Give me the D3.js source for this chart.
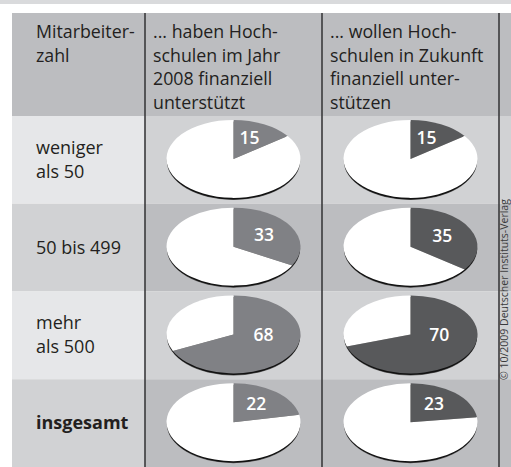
<!DOCTYPE html>
<html><head><meta charset="utf-8">
<script src="https://cdn.jsdelivr.net/npm/d3@7"></script>
<style>body{margin:0;background:#fff}svg{display:block}</style>
</head><body><svg id="c" width="511" height="467"></svg>
<script>
const headerLines = [
  ["Mitarbeiter-", "zahl"],
  ["... haben Hoch-", "schulen im Jahr", "2008 finanziell", "unterstützt"],
  ["... wollen Hoch-", "schulen in Zukunft", "finanziell unter-", "stützen"]
];
const categories = [["weniger", "als 50"], ["50 bis 499"], ["mehr", "als 500"], ["insgesamt"]];
const boldCategory = [false, false, false, true];
const supported2008 = [15, 33, 68, 22];
const supportedFuture = [15, 35, 70, 23];
const seriesColors = ["#808185", "#58595b"];
const copyright = "© 10/2009 Deutscher Instituts-Verlag";

const svg = d3.select("#c");
const W = 511, H = 467;
const font = "'Open Sans', sans-serif";

// layout
const tableLeft = 12, colX = [12, 145, 322, 499, 511];
const headerTop = 13, headerBottom = 116;
const rowY = d3.scaleBand().domain(d3.range(categories.length)).range([headerBottom, H]).padding(0);

// top strip
svg.append("rect").attr("x", 0).attr("y", 0).attr("width", W).attr("height", 4).attr("fill", "#d9dadc");
// header
svg.append("rect").attr("x", tableLeft).attr("y", headerTop).attr("width", W - tableLeft).attr("height", headerBottom - headerTop).attr("fill", "#bcbdc0");

// row backgrounds
categories.forEach((c, i) => {
  const light = i % 2 === 0;
  svg.append("rect").attr("x", colX[0]).attr("y", rowY(i)).attr("width", colX[1] - colX[0]).attr("height", rowY.bandwidth())
    .attr("fill", light ? "#e6e7e9" : "#d1d2d4");
  svg.append("rect").attr("x", colX[1]).attr("y", rowY(i)).attr("width", W - colX[1]).attr("height", rowY.bandwidth())
    .attr("fill", light ? "#d1d2d4" : "#bcbdc0");
});

// header text
const headerTextX = [36, 153, 330];
headerLines.forEach((lines, j) => {
  const t = svg.append("text").attr("font-family", font).attr("font-size", 17.8).attr("fill", "#231f20");
  lines.forEach((l, k) => t.append("tspan").attr("x", headerTextX[j]).attr("y", 38 + k * 23.5).text(l));
});

// category labels
categories.forEach((lines, i) => {
  const cy = rowY(i) + rowY.bandwidth() / 2;
  const t = svg.append("text").attr("font-family", font).attr("font-size", 18).attr("fill", "#231f20")
    .attr("font-weight", boldCategory[i] ? 700 : 400);
  const start = lines.length === 1 ? cy + 6 : cy - 6;
  lines.forEach((l, k) => t.append("tspan").attr("x", 36).attr("y", start + k * 24).text(l));
});

// vertical lines
[colX[1], colX[2], colX[3]].forEach(x => {
  svg.append("line").attr("x1", x).attr("x2", x).attr("y1", headerTop).attr("y2", H)
    .attr("stroke", "#3a3a3c").attr("stroke-width", 1.6);
});

// pies
const rx = 67, ry = 39;
const pie = d3.pie().sort(null).value(d => d);
const arc = d3.arc().innerRadius(0).outerRadius(rx);
[supported2008, supportedFuture].forEach((series, s) => {
  const cx = (colX[s + 1] + colX[s + 2]) / 2;
  series.forEach((v, i) => {
    const cy = rowY(i) + rowY.bandwidth() / 2 - 1;
    const g = svg.append("g");
    g.append("ellipse").attr("cx", cx).attr("cy", cy + 2).attr("rx", rx - 0.3).attr("ry", ry).attr("fill", "#555");
    g.append("ellipse").attr("cx", cx).attr("cy", cy + 1.6).attr("rx", rx - 0.6).attr("ry", ry).attr("fill", "#111");
    const pg = g.append("g").attr("transform", `translate(${cx},${cy}) scale(1,${ry / rx})`);
    const arcs = pie([v, 100 - v]);
    pg.selectAll("path").data(arcs).join("path").attr("d", arc)
      .attr("fill", (d, k) => k === 0 ? seriesColors[s] : "#ffffff");
    const a = arcs[0];
    const m = (a.startAngle + a.endAngle) / 2;
    const lx = cx + 0.53 * rx * Math.sin(m);
    const ly = cy - 0.62 * ry * Math.cos(Math.min(m, Math.PI / 2));
    g.append("text").attr("x", lx).attr("y", ly).attr("dy", "0.36em").attr("text-anchor", "middle")
      .attr("font-family", font).attr("font-size", 17.5).attr("font-weight", 600).attr("fill", "#ffffff").text(v);
  });
});

// copyright
svg.append("text").attr("transform", `translate(508,380) rotate(-90)`).attr("font-family", font)
  .attr("font-size", 10.5).attr("fill", "#3a3a3c").text(copyright);
</script></body></html>
